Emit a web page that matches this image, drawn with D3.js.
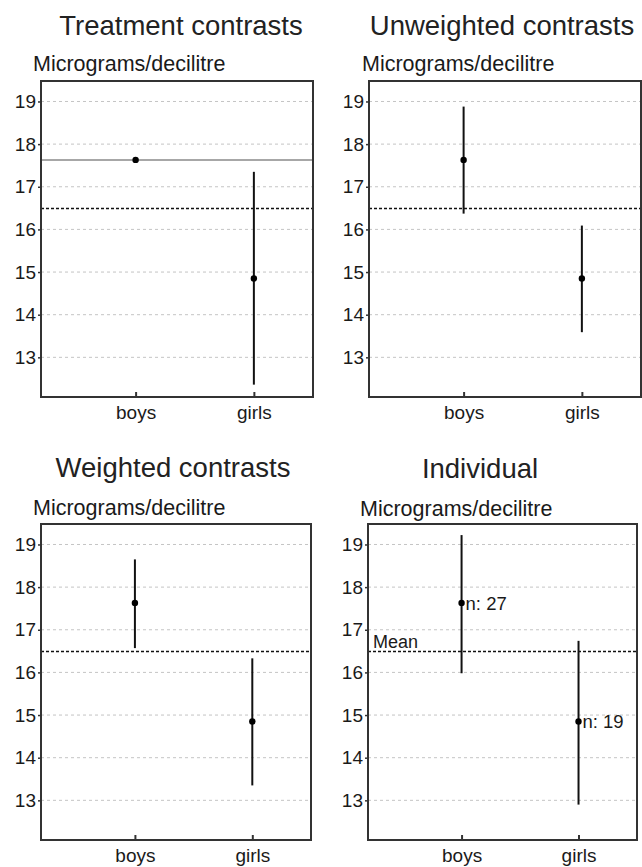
<!DOCTYPE html>
<html>
<head>
<meta charset="utf-8">
<script src="https://cdn.jsdelivr.net/npm/d3@7"></script>
<style>
  html, body { margin: 0; padding: 0; background: #fff; }
  svg { display: block; }
  text { font-family: "Liberation Sans", Arial, sans-serif; fill: #1a1a1a; }
</style>
</head>
<body>
<svg id="chart" width="642" height="867"></svg>
<script>
// ---- data ----
const categories = ["boys", "girls"];
const means = [17.63, 14.85];
const counts = [27, 19];
const grandMean = 16.49;
const yTicks = [13, 14, 15, 16, 17, 18, 19];
const yUnit = "Micrograms/decilitre";

const treatmentLo = [17.63, 12.36];
const treatmentHi = [17.63, 17.35];
const unweightedLo = [16.37, 13.59];
const unweightedHi = [18.88, 16.09];
const weightedLo = [16.57, 13.35];
const weightedHi = [18.65, 16.33];
const individualLo = [15.98, 12.90];
const individualHi = [19.22, 16.74];

const panels = [
  { title: "Treatment contrasts", lo: treatmentLo, hi: treatmentHi, refLine: true,
    box: { x0: 41, x1: 313, y0: 81, y1: 397 }, titleX: 181, titleY: 35, unitX: 33, unitY: 71 },
  { title: "Unweighted contrasts", lo: unweightedLo, hi: unweightedHi,
    box: { x0: 369, x1: 641, y0: 81, y1: 397 }, titleX: 502, titleY: 35, unitX: 362, unitY: 71 },
  { title: "Weighted contrasts", lo: weightedLo, hi: weightedHi,
    box: { x0: 41, x1: 311, y0: 524, y1: 840 }, titleX: 173, titleY: 477, unitX: 33, unitY: 515 },
  { title: "Individual", lo: individualLo, hi: individualHi, individual: true,
    box: { x0: 368, x1: 637, y0: 524, y1: 840 }, titleX: 480, titleY: 478, unitX: 360, unitY: 516 }
];

const svg = d3.select("#chart");

panels.forEach(p => {
  const b = p.box;
  const g = svg.append("g");
  const x = d3.scaleLinear().domain([0.2, 2.5]).range([b.x0, b.x1]);
  const y = d3.scaleLinear().domain([12.07, 19.48]).range([b.y1, b.y0]);
  const cx = i => x(i + 1);

  // title
  g.append("text").attr("x", p.titleX).attr("y", p.titleY)
    .attr("text-anchor", "middle").style("font-size", "27.5px").style("fill", "#222")
    .text(p.title);
  // unit label
  g.append("text").attr("x", p.unitX).attr("y", p.unitY)
    .style("font-size", "21.5px").text(yUnit);

  // grid
  g.append("g").selectAll("line").data(yTicks).join("line")
    .attr("x1", b.x0).attr("x2", b.x1)
    .attr("y1", d => y(d)).attr("y2", d => y(d))
    .attr("stroke", "#c4c4c4").attr("stroke-width", 1).attr("stroke-dasharray", "3,3");

  // reference line (treatment contrasts)
  if (p.refLine) {
    g.append("line").attr("x1", b.x0).attr("x2", b.x1)
      .attr("y1", y(means[0])).attr("y2", y(means[0]))
      .attr("stroke", "#8a8a8a").attr("stroke-width", 1.5);
  }

  // grand mean dashed line
  g.append("line").attr("x1", b.x0).attr("x2", b.x1)
    .attr("y1", y(grandMean)).attr("y2", y(grandMean))
    .attr("stroke", "#111").attr("stroke-width", 1.5).attr("stroke-dasharray", "3,2");

  if (p.individual) {
    g.append("text").attr("x", b.x0 + 5).attr("y", y(grandMean) - 4)
      .style("font-size", "18px").text("Mean");
  }

  // y axis
  const ya = g.append("g").attr("transform", `translate(${b.x0},0)`)
    .call(d3.axisLeft(y).tickValues(yTicks).tickFormat(d3.format("d")).tickSize(3).tickPadding(2));
  ya.select(".domain").remove();
  ya.selectAll(".tick line").attr("stroke", "#333").attr("stroke-width", 1.5);
  ya.selectAll(".tick text").style("font-size", "19px").style("font-family", "'Liberation Sans', Arial, sans-serif").attr("fill", "#1a1a1a");

  // x axis
  const xa = g.append("g").attr("transform", `translate(0,${b.y1})`)
    .call(d3.axisBottom(x).tickValues([1, 2]).tickFormat(d => categories[d - 1]).tickSizeInner(-5).tickSizeOuter(0).tickPadding(9));
  xa.select(".domain").remove();
  xa.selectAll(".tick line").attr("stroke", "#333").attr("stroke-width", 2);
  xa.selectAll(".tick text").style("font-size", "19px").style("font-family", "'Liberation Sans', Arial, sans-serif").attr("fill", "#1a1a1a");

  // error bars
  g.append("g").selectAll("line").data(categories).join("line")
    .attr("x1", (d, i) => cx(i)).attr("x2", (d, i) => cx(i))
    .attr("y1", (d, i) => y(p.hi[i])).attr("y2", (d, i) => y(p.lo[i]))
    .attr("stroke", "#111").attr("stroke-width", 2);

  // points
  g.append("g").selectAll("circle").data(means).join("circle")
    .attr("cx", (d, i) => cx(i)).attr("cy", d => y(d)).attr("r", 3.2)
    .attr("fill", "#000");

  if (p.individual) {
    g.append("g").selectAll("text").data(counts).join("text")
      .attr("x", (d, i) => cx(i) + 4).attr("y", (d, i) => y(means[i]) + 7)
      .style("font-size", "18.5px").text(d => "n: " + d);
  }

  // box
  g.append("rect").attr("x", b.x0).attr("y", b.y0)
    .attr("width", b.x1 - b.x0).attr("height", b.y1 - b.y0)
    .attr("fill", "none").attr("stroke", "#333").attr("stroke-width", 2);
});
</script>
</body>
</html>
